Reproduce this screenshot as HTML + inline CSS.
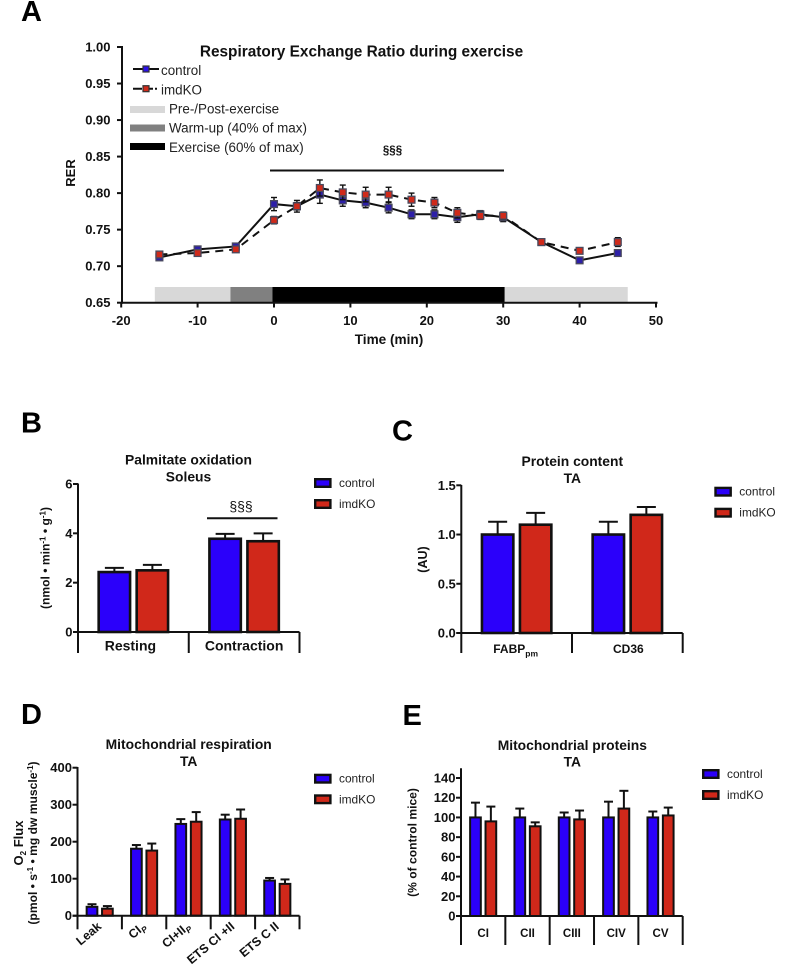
<!DOCTYPE html>
<html>
<head>
<meta charset="utf-8">
<title>Exercise metabolism figure</title>
<style>
html,body{margin:0;padding:0;background:#fff;}
svg{display:block;font-family:"Liberation Sans",sans-serif;fill:#111;}
.pl{font-size:29px;font-weight:bold;fill:#000;}
.ttl{font-size:13.85px;font-weight:bold;text-anchor:middle;}
.tk{font-size:13px;font-weight:bold;}
.ax{font-size:12.1px;font-weight:bold;}
.leg{font-size:13.4px;font-weight:normal;fill:#222;}
</style>
</head>
<body>
<svg id="fig" xmlns="http://www.w3.org/2000/svg" width="787" height="975" viewBox="0 0 787 975">
<text class="pl" x="21" y="21">A</text>
<text class="pl" x="21" y="432.5">B</text>
<text class="pl" x="392" y="440.5">C</text>
<text class="pl" x="21" y="724">D</text>
<text class="pl" x="402.5" y="725">E</text>

<text class="ttl" x="361.5" y="56.5" style="font-size:15.4px">Respiratory Exchange Ratio during exercise</text>
<text class="ax" transform="translate(75,173) rotate(-90)" text-anchor="middle" style="font-size:13px">RER</text>
<text class="ax" x="389" y="344" text-anchor="middle" style="font-size:13.6px">Time (min)</text>
<text x="392.5" y="154" text-anchor="middle" style="font-size:11.5px;font-weight:bold">§§§</text>
<line x1="270" x2="504" y1="170.5" y2="170.5" stroke="#111" stroke-width="2"/>

<g>
<line x1="133" x2="159" y1="69" y2="69" stroke="#111" stroke-width="2"/>
<rect x="143" y="66" width="6" height="6" fill="#2b10e8" stroke="#333" stroke-width="1.2"/>
<text class="leg" x="161" y="75">control</text>
<line x1="133" x2="157" y1="88.7" y2="88.7" stroke="#111" stroke-width="2" stroke-dasharray="9,2"/>
<rect x="143" y="85.7" width="6" height="6" fill="#cf2a1a" stroke="#333" stroke-width="1.2"/>
<text class="leg" x="161" y="94.5">imdKO</text>
<rect x="130" y="106" width="35" height="7" fill="#d8d8d8"/>
<text class="leg" x="169" y="113.5">Pre-/Post-exercise</text>
<rect x="130" y="124.5" width="35" height="7" fill="#808080"/>
<text class="leg" x="169" y="132.5">Warm-up (40% of max)</text>
<rect x="130" y="143" width="35" height="7" fill="#000"/>
<text class="leg" x="169" y="152">Exercise (60% of max)</text>
</g>

<text class="ttl" x="188.5" y="464.5">Palmitate oxidation</text>
<text class="ttl" x="188.5" y="481.5">Soleus</text>
<text class="ax" transform="translate(49.5,558) rotate(-90)" text-anchor="middle">(nmol • min<tspan font-size="8" dy="-4">-1</tspan><tspan dy="4"> • g</tspan><tspan font-size="8" dy="-4">-1</tspan><tspan dy="4">)</tspan></text>
<text x="241" y="511" text-anchor="middle" style="font-size:14px">§§§</text>
<line x1="207" x2="277.5" y1="518.3" y2="518.3" stroke="#111" stroke-width="2"/>

<text class="ttl" x="572.3" y="466">Protein content</text>
<text class="ttl" x="572.3" y="483">TA</text>
<text class="ax" transform="translate(427,559.5) rotate(-90)" text-anchor="middle" style="font-size:12.5px">(AU)</text>

<text class="ttl" x="188.7" y="749">Mitochondrial respiration</text>
<text class="ttl" x="188.7" y="766">TA</text>
<text class="ax" transform="translate(23,843) rotate(-90)" text-anchor="middle" style="font-size:13px">O<tspan font-size="8" dy="3">2</tspan><tspan dy="-3"> Flux</tspan></text>
<text class="ax" transform="translate(37,843) rotate(-90)" text-anchor="middle">(pmol • s<tspan font-size="8" dy="-4">-1</tspan><tspan dy="4"> • mg dw muscle</tspan><tspan font-size="8" dy="-4">-1</tspan><tspan dy="4">)</tspan></text>

<text class="ttl" x="572.3" y="750">Mitochondrial proteins</text>
<text class="ttl" x="572.3" y="766.5">TA</text>
<text class="ax" transform="translate(416.5,842.5) rotate(-90)" text-anchor="middle">(% of control mice)</text>
</svg>

<script>
// Panel A data
var aTimes = [-15, -10, -5, 0, 3, 6, 9, 12, 15, 18, 21, 24, 27, 30, 35, 40, 45];
var aControl = [0.712, 0.723, 0.727, 0.785, 0.782, 0.798, 0.790, 0.787, 0.780, 0.771, 0.771, 0.767, 0.771, 0.767, 0.733, 0.708, 0.718];
var aControlErr = [0.003, 0.003, 0.003, 0.009, 0.008, 0.012, 0.008, 0.007, 0.007, 0.006, 0.006, 0.007, 0.005, 0.006, 0.003, 0.003, 0.004];
var aKO = [0.716, 0.718, 0.723, 0.763, 0.782, 0.807, 0.801, 0.798, 0.798, 0.791, 0.787, 0.773, 0.769, 0.769, 0.733, 0.721, 0.733];
var aKOErr = [0.002, 0.003, 0.003, 0.005, 0.005, 0.011, 0.010, 0.010, 0.010, 0.009, 0.007, 0.007, 0.005, 0.005, 0.003, 0.003, 0.006];
var aXTicks = [-20, -10, 0, 10, 20, 30, 40, 50];
var aYTicks = ["0.65", "0.70", "0.75", "0.80", "0.85", "0.90", "0.95", "1.00"];
var aPhaseStart = [-15.6, -5.7, -0.2, 30.2];
var aPhaseEnd = [-5.7, -0.2, 30.2, 46.3];
var aPhaseNames = ["pre-exercise", "warm-up", "exercise", "post-exercise"];
var aPhaseFill = ["#d8d8d8", "#808080", "#000000", "#d8d8d8"];

// Panel B data
var bCategories = ["Resting", "Contraction"];
var bControl = [2.43, 3.78];
var bKO = [2.50, 3.68];
var bControlErr = [0.17, 0.20];
var bKOErr = [0.22, 0.32];
var bTicks = ["0", "2", "4", "6"];

// Panel C data
var cCategories = ["FABP", "CD36"];
var cControl = [1.0, 1.0];
var cKO = [1.1, 1.2];
var cControlErr = [0.13, 0.13];
var cKOErr = [0.12, 0.08];
var cTicks = ["0.0", "0.5", "1.0", "1.5"];

// Panel D data
var dCategories = ["Leak", "CI", "CI+II", "ETS CI +II", "ETS C II"];
var dSubscripts = ["", "P", "P", "", ""];
var dControl = [24, 181, 248, 260, 95];
var dKO = [19, 176, 254, 262, 86];
var dControlErr = [7, 10, 13, 13, 7];
var dKOErr = [7, 19, 26, 25, 12];
var dTicks = ["0", "100", "200", "300", "400"];

// Panel E data
var eCategories = ["CI", "CII", "CIII", "CIV", "CV"];
var eControl = [100, 100, 100, 100, 100];
var eKO = [96, 91, 98, 109, 102];
var eControlErr = [15, 9, 5, 16, 6];
var eKOErr = [15, 4, 9, 18, 8];
var eTicks = ["0", "20", "40", "60", "80", "100", "120", "140"];

var seriesNames = ["control", "imdKO"];

var NS = "http://www.w3.org/2000/svg";
var fig = document.getElementById("fig");
var INK = "#111";
var BLUE = "#2b00fa";
var RED = "#d0281a";

function mk(tag, parent, name) {
  var el = document.createElementNS(NS, tag);
  
  
  parent.appendChild(el);
  return el;
}
function line(parent, name, x1, y1, x2, y2, w, dash) {
  var l = mk("line", parent, name);
  l.setAttribute("x1", x1); l.setAttribute("y1", y1);
  l.setAttribute("x2", x2); l.setAttribute("y2", y2);
  l.setAttribute("stroke", INK);
  l.setAttribute("stroke-width", w || 2);
  if (dash) l.setAttribute("stroke-dasharray", dash);
  return l;
}
function rect(parent, name, x, y, w, h, fill, stroke, sw) {
  var r = mk("rect", parent, name);
  r.setAttribute("x", x); r.setAttribute("y", y);
  r.setAttribute("width", Math.max(w, 0)); r.setAttribute("height", Math.max(h, 0));
  r.setAttribute("fill", fill);
  if (stroke) { r.setAttribute("stroke", stroke); r.setAttribute("stroke-width", sw); }
  return r;
}
function label(parent, name, x, y, str, anchor, cls) {
  var t = mk("text", parent, name);
  t.setAttribute("x", x); t.setAttribute("y", y);
  t.setAttribute("text-anchor", anchor);
  t.setAttribute("class", cls || "tk");
  t.textContent = str;
  return t;
}

// ---------- Panel A ----------
(function () {
  var g = mk("g", fig, "chart-a-plot");
  var xScale = function (v) { return 274 + (v - 0) * 7.64; };
  var yScale = function (v) { return 302.7 - (v - 0.65) * 730.6; };
  aPhaseStart.forEach(function (s, i) {
    rect(g, "phase-" + aPhaseNames[i], xScale(s), 287, xScale(aPhaseEnd[i]) - xScale(s), 15.7, aPhaseFill[i]);
  });
  line(g, "chart-a-y-axis", 122, 46, 122, 303.7, 2);
  line(g, "chart-a-x-axis", 121, 302.7, 657.5, 302.7, 2);
  aYTicks.forEach(function (t) {
    var y = yScale(parseFloat(t));
    line(g, "y-tick-" + t, 117, y, 122, y, 2);
    label(g, "y-tick-label-" + t, 110.5, y + 4.5, t, "end");
  });
  aXTicks.forEach(function (t) {
    var x = xScale(t);
    line(g, "x-tick-" + t, x, 302.7, x, 307.5, 2);
    label(g, "x-tick-label-" + t, x, 325, String(t), "middle");
  });
  function series(name, vals, errs, fill, dash) {
    var sg = mk("g", g, "series-" + name);
    var pts = vals.map(function (v, i) { return xScale(aTimes[i]) + "," + yScale(v); }).join(" ");
    var pl = mk("polyline", sg, "line-" + name);
    pl.setAttribute("points", pts);
    pl.setAttribute("fill", "none");
    pl.setAttribute("stroke", INK);
    pl.setAttribute("stroke-width", 2);
    if (dash) pl.setAttribute("stroke-dasharray", dash);
    vals.forEach(function (v, i) {
      var x = xScale(aTimes[i]);
      var y1 = yScale(v - errs[i]), y2 = yScale(v + errs[i]);
      line(sg, "error-bar-" + name + "-" + aTimes[i], x, y1, x, y2, 1.4);
      line(sg, "error-cap-low-" + name + "-" + aTimes[i], x - 3, y1, x + 3, y1, 1.4);
      line(sg, "error-cap-high-" + name + "-" + aTimes[i], x - 3, y2, x + 3, y2, 1.4);
    });
    vals.forEach(function (v, i) {
      rect(sg, "point-" + name + "-" + aTimes[i], xScale(aTimes[i]) - 3.4, yScale(v) - 3.4, 6.8, 6.8, fill, "#4a4a5e", 1.3);
    });
  }
  series("control", aControl, aControlErr, "#2d1fa8");
  series("imdko", aKO, aKOErr, "#cf2a1a", "8,6");
})();

// ---------- Bar panels ----------
function barPanel(o) {
  var g = mk("g", fig, o.id + "-plot");
  var n = o.categories.length;
  var groupW = (o.x1 - o.x0) / n;
  var sw = o.strokeW;
  var yScale = function (v) { return o.y0 - (v - 0) * o.pxPerUnit; };
  o.categories.forEach(function (cat, i) {
    var cx = o.x0 + groupW * (i + 0.5);
    [
      { v: o.control[i], e: o.controlErr[i], fill: BLUE, name: "control", left: cx - o.gap / 2 - o.barW },
      { v: o.ko[i], e: o.koErr[i], fill: RED, name: "imdko", left: cx + o.gap / 2 }
    ].forEach(function (b) {
      var mid = b.left + o.barW / 2;
      var top = yScale(b.v), errTop = yScale(b.v + b.e);
      var slug = cat.replace(/[^A-Za-z0-9]+/g, "-").toLowerCase();
      line(g, "error-bar-" + b.name + "-" + slug, mid, top, mid, errTop, 2);
      line(g, "error-cap-" + b.name + "-" + slug, mid - o.cap / 2, errTop, mid + o.cap / 2, errTop, 2);
      rect(g, "bar-" + b.name + "-" + slug, b.left + sw / 2, top, o.barW - sw, o.y0 - top, b.fill, INK, sw);
    });
  });
  line(g, o.id + "-y-axis", o.x0, o.yTop, o.x0, o.y0 + 1, 2);
  line(g, o.id + "-x-axis", o.x0 - 5, o.y0, o.x1, o.y0, 2);
  o.ticks.forEach(function (t) {
    var y = yScale(parseFloat(t));
    line(g, "y-tick-" + t, o.x0 - 5, y, o.x0, y, 2);
    label(g, "y-tick-label-" + t, o.x0 - 5.5, y + 4.5, t, "end");
  });
  for (var i = 0; i <= n; i++) {
    var tx = o.x0 + groupW * i;
    line(g, "group-tick-" + i, tx, o.y0, tx, o.tickBottom, 2);
  }
  o.categories.forEach(function (cat, i) {
    var cx = o.x0 + groupW * (i + 0.5);
    if (o.rotated) {
      var ax = cx + 2.5, ay = o.y0 + 12;
      var t = mk("text", g, "x-label-" + cat.replace(/[^A-Za-z0-9]+/g, "-").toLowerCase());
      t.setAttribute("class", "tk");
      t.setAttribute("text-anchor", "end");
      t.setAttribute("style", "font-size:12.4px");
      t.setAttribute("transform", "translate(" + ax + "," + ay + ") rotate(-40)");
      t.textContent = cat;
      if (o.subs[i]) {
        var s = mk("tspan", t, "x-label-subscript");
        s.setAttribute("font-size", "8.5");
        s.setAttribute("font-style", "italic");
        s.setAttribute("dy", "3");
        s.textContent = o.subs[i];
      }
    } else {
      var off = o.labelOffsets ? o.labelOffsets[i] : 0;
      var tl = label(g, "x-label-" + cat.toLowerCase(), cx + off, o.labelY, cat, "middle");
      tl.setAttribute("style", "font-size:" + o.labelSize + "px;font-weight:bold");
      if (o.subs && o.subs[i]) {
        var ts = mk("tspan", tl, "x-label-subscript");
        ts.setAttribute("font-size", "8.5");
        ts.setAttribute("dy", "3.5");
        ts.textContent = o.subs[i];
      }
    }
  });
  // legend
  [[BLUE, o.legY[0]], [RED, o.legY[1]]].forEach(function (e, i) {
    var nm = seriesNames[i].toLowerCase();
    rect(g, "legend-swatch-" + nm, o.legX + 1.2, e[1] + 1.2, 15.2, 7.6, e[0], INK, 2.4);
    var lt = label(g, "legend-label-" + nm, o.legX + 25, e[1] + 9, seriesNames[i], "start", "leg");
    lt.setAttribute("style", "font-size:11.9px");
  });
}

barPanel({ id: "chart-b", categories: bCategories, control: bControl, ko: bKO, controlErr: bControlErr, koErr: bKOErr, ticks: bTicks,
  x0: 78, x1: 299.5, y0: 632, yTop: 483.5, pxPerUnit: 148 / 6, barW: 34, gap: 4, cap: 19, tickBottom: 653, strokeW: 2.6,
  labelY: 650.7, labelSize: 14, labelOffsets: [-3, 0], legX: 314, legY: [478, 499] });
barPanel({ id: "chart-c", categories: cCategories, subs: ["pm", ""], control: cControl, ko: cKO, controlErr: cControlErr, koErr: cKOErr, ticks: cTicks,
  x0: 461.3, x1: 682.7, y0: 633, yTop: 485, pxPerUnit: 147.7 / 1.5, barW: 34, gap: 4, cap: 19, tickBottom: 653, strokeW: 2.6,
  labelY: 653, labelSize: 12, labelOffsets: [-1, 1], legX: 714.3, legY: [486.7, 507.7] });
barPanel({ id: "chart-d", categories: dCategories, subs: dSubscripts, rotated: true, control: dControl, ko: dKO, controlErr: dControlErr, koErr: dKOErr, ticks: dTicks,
  x0: 77.5, x1: 299.5, y0: 915.7, yTop: 767, pxPerUnit: 148 / 400, barW: 12.7, gap: 2.7, cap: 9, tickBottom: 929.3, strokeW: 2,
  legX: 314, legY: [773.7, 794.3] });
barPanel({ id: "chart-e", categories: eCategories, control: eControl, ko: eKO, controlErr: eControlErr, koErr: eKOErr, ticks: eTicks,
  x0: 461, x1: 682.7, y0: 916, yTop: 768.3, pxPerUnit: 138 / 140, barW: 12.7, gap: 2.7, cap: 9, tickBottom: 945, strokeW: 2,
  labelY: 937, labelSize: 11.5, legX: 702, legY: [769, 790] });
</script>
</body>
</html>
